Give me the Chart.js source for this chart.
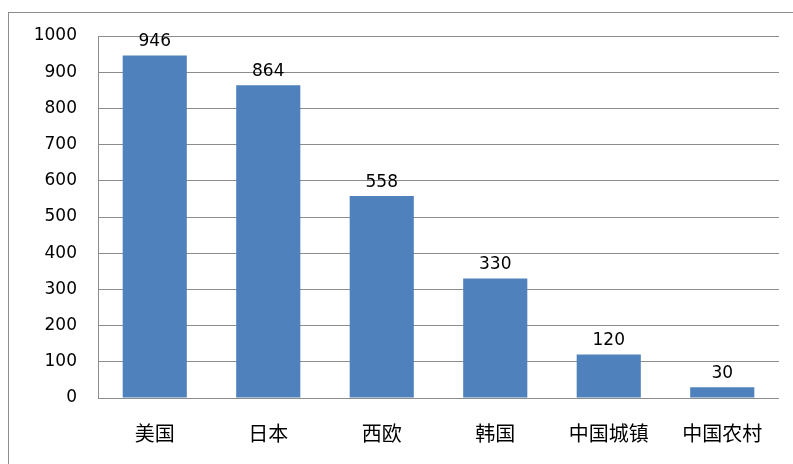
<!DOCTYPE html>
<html><head><meta charset="utf-8">
<script src="https://cdn.jsdelivr.net/npm/chart.js@4"></script>
<style>html,body{margin:0;padding:0;background:#fff;overflow:hidden}#wrap{width:793px;height:464px;position:relative}</style>
</head><body><div id="wrap"><canvas id="c" width="793" height="464"></canvas></div>
<script>
const categories = ["美国","日本","西欧","韩国","中国城镇","中国农村"];
const values = [946, 864, 558, 330, 120, 30];
const yTicks = [0,100,200,300,400,500,600,700,800,900,1000];

const frame = {
  id:'frame',
  beforeDraw(chart){
    const ctx = chart.ctx;
    ctx.save();
    ctx.fillStyle='#fff';ctx.fillRect(0,0,chart.width,chart.height);
    ctx.strokeStyle='#8c8c8c';ctx.lineWidth=1;
    ctx.strokeRect(8.5,12.5,1000,1000);
    ctx.restore();
  }
};
const labels = {
  id:'labels',
  afterDatasetsDraw(chart){
    const ctx = chart.ctx;
    const meta = chart.getDatasetMeta(0);
    ctx.save();
    ctx.font='17px "DejaVu Sans"';
    ctx.fillStyle='#000';
    ctx.textAlign='center';
    ctx.textBaseline='bottom';
    meta.data.forEach((bar,i)=>{
      ctx.fillText(String(values[i]), bar.x, bar.y-5);
    });
    ctx.restore();
  }
};

new Chart(document.getElementById('c'),{
  type:'bar',
  data:{labels:categories,datasets:[{data:values,backgroundColor:'#4F81BD',borderWidth:0,categoryPercentage:1,barPercentage:0.565}]},
  options:{
    responsive:false,animation:false,
    layout:{padding:{left:0,top:36,right:14,bottom:0}},
    plugins:{legend:{display:false},tooltip:{enabled:false}},
    scales:{
      x:{
        grid:{display:false,drawTicks:false},
        border:{display:false},
        ticks:{padding:23,color:'#000',font:{family:'"Noto Sans CJK SC"',size:20}},
        afterFit(s){s.height=66;}
      },
      y:{
        min:0,max:1000,
        afterBuildTicks(s){s.ticks=yTicks.map(v=>({value:v}));},
        grid:{color:'#8c8c8c',lineWidth:1,drawTicks:false},
        border:{display:true,color:'#8c8c8c'},
        ticks:{padding:21,color:'#000',font:{family:'"DejaVu Sans"',size:17},callback:(v)=>String(v)},
        afterFit(s){s.width=98;}
      }
    }
  },
  plugins:[frame,labels]
});
</script></body></html>
